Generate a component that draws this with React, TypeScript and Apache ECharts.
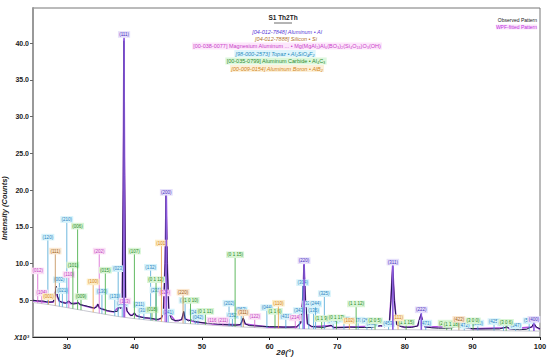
import React, { useEffect, useRef } from "react";
import * as echarts from "echarts";

// Observed pattern [2θ, intensity x10³]
const observed: number[][] = [
  [25.0, 5.0], [25.5, 4.95], [26.0, 4.9], [26.5, 4.9], [27.0, 4.8], [27.5, 4.75], [28.0, 4.8], [28.3, 6.0], [28.45, 6.9], [28.6, 5.6],
  [28.9, 4.9], [29.3, 4.7], [29.8, 4.6], [30.1, 4.8], [30.3, 4.9], [30.6, 4.6], [31.0, 4.5], [31.5, 4.55], [31.7, 4.7], [31.9, 4.45],
  [32.5, 4.3], [33.0, 4.2], [33.6, 4.05], [34.1, 3.95], [34.45, 4.1], [34.6, 4.5], [34.8, 4.0], [35.2, 3.8], [35.6, 3.75], [36.0, 3.6],
  [36.5, 3.5], [37.0, 3.45], [37.5, 3.5], [37.75, 4.3], [37.95, 3.9], [38.2, 4.5], [38.35, 20], [38.45, 40.3], [38.55, 22], [38.7, 5.0],
  [38.9, 3.6], [39.3, 3.0], [39.7, 2.9], [40.0, 3.3], [40.3, 2.9], [41.0, 2.7], [41.5, 2.6], [42.0, 2.6], [42.5, 2.55], [43.0, 2.45],
  [43.5, 2.4], [44.0, 2.6], [44.3, 3.5], [44.55, 10], [44.7, 19.7], [44.85, 10], [45.1, 3.3], [45.5, 2.4], [46.0, 2.25], [46.5, 2.2],
  [47.0, 2.4], [47.3, 3.5], [47.5, 2.5], [48.0, 2.2], [48.5, 2.35], [49.0, 2.1], [50.0, 1.95], [51.0, 1.85], [52.0, 1.8], [53.0, 1.7],
  [54.0, 1.65], [55.0, 1.6], [55.7, 1.7], [56.1, 2.6], [56.4, 1.8], [57.0, 1.55], [58.0, 1.5], [59.0, 1.45], [60.0, 1.4], [61.0, 1.4],
  [62.0, 1.35], [63.0, 1.35], [64.0, 1.4], [64.6, 1.9], [64.9, 5.0], [65.1, 9.8], [65.3, 5.0], [65.6, 1.8], [66.2, 1.45], [67.0, 1.35],
  [68.0, 1.3], [69.1, 1.6], [69.5, 1.3], [70.0, 1.3], [71.0, 1.3], [72.0, 1.35], [73.0, 1.3], [74.0, 1.3], [75.0, 1.3], [76.4, 1.55],
  [77.0, 1.4], [77.7, 1.6], [77.95, 5.0], [78.2, 9.6], [78.45, 5.0], [78.8, 1.7], [79.5, 1.4], [80.0, 1.35], [81.0, 1.3], [81.9, 1.5],
  [82.2, 2.5], [82.4, 3.1], [82.6, 2.3], [83.0, 1.4], [84.0, 1.25], [85.0, 1.2], [86.0, 1.2], [87.0, 1.25], [87.6, 1.5], [88.0, 1.8],
  [88.5, 1.5], [89.0, 1.25], [90.0, 1.15], [91.0, 1.1], [92.0, 1.1], [93.0, 1.1], [94.0, 1.1], [94.8, 1.3], [95.1, 1.4], [95.5, 1.15],
  [96.0, 1.05], [97.0, 1.0], [98.0, 1.05], [98.8, 1.4], [99.1, 1.9], [99.4, 1.4], [100.0, 1.1],
];

// WPF-fitted pattern
const fitted: number[][] = [
  [25.0, 4.95], [27.0, 4.75], [28.0, 4.75], [28.3, 5.9], [28.45, 6.8], [28.6, 5.5], [28.9, 4.85], [30.0, 4.6], [30.3, 4.85], [30.6, 4.55],
  [31.7, 4.65], [32.0, 4.4], [33.0, 4.15], [34.1, 3.9], [34.6, 4.45], [34.8, 3.95], [36.0, 3.55], [37.0, 3.4], [37.75, 4.2], [37.95, 3.85],
  [38.2, 4.5], [38.35, 20.5], [38.45, 40.5], [38.55, 22.5], [38.7, 5.0], [38.9, 3.5], [39.5, 2.9], [40.0, 3.2], [40.3, 2.85], [42.0, 2.55],
  [43.5, 2.35], [44.0, 2.55], [44.3, 3.5], [44.55, 10.5], [44.7, 19.8], [44.85, 10.5], [45.1, 3.3], [46.0, 2.2], [47.0, 2.35], [47.3, 3.4],
  [47.5, 2.45], [49.0, 2.05], [52.0, 1.75], [55.7, 1.65], [56.1, 2.5], [56.4, 1.75], [60.0, 1.35], [64.0, 1.35], [64.6, 1.9], [64.9, 5.2],
  [65.1, 9.9], [65.3, 5.2], [65.6, 1.8], [66.2, 1.4], [69.1, 1.55], [69.5, 1.28], [76.4, 1.5], [77.7, 1.6], [77.95, 5.2], [78.2, 9.7],
  [78.45, 5.2], [78.8, 1.7], [80.0, 1.3], [81.9, 1.5], [82.2, 2.5], [82.4, 3.0], [82.6, 2.3], [83.0, 1.35], [87.6, 1.45], [88.0, 1.75],
  [88.5, 1.45], [90.0, 1.1], [94.8, 1.25], [95.1, 1.35], [95.5, 1.1], [98.8, 1.35], [99.1, 1.85], [99.4, 1.35], [100.0, 1.05],
];

// Background curve
const background: number[][] = [
  [25, 4.7], [27.5, 4.4], [30, 4.0], [32.5, 3.6], [35, 3.2], [37.5, 2.8], [40, 2.5], [42.5, 2.25], [45, 2.0], [47.5, 1.85],
  [50, 1.7], [55, 1.4], [60, 1.2], [65, 1.1], [70, 1.05], [75, 1.0], [80, 1.0], [85, 0.95], [90, 0.9], [95, 0.85], [100, 0.8],
];

// Reference phase sticks: [2θ, label height, hkl]
const alPeaks: [number, number, string][] = [
  [38.47, 41.2, "(111)"], [44.72, 19.7, "(200)"], [65.1, 10.4, "(220)"], [78.23, 10.2, "(311)"], [82.44, 3.7, "(222)"], [99.1, 2.4, "(400)"],
];
const siPeaks: [number, number, string][] = [
  [28.3, 11.7, "(111)"], [47.2, 6.1, "(220)"], [56.1, 3.3, "(311)"], [88.0, 2.4, "(422)"],
];
const mgPeaks: [number, number, string][] = [
  [25.7, 9.0, "(012)"], [26.3, 6.0, "(104)"], [30.3, 8.5, "(110)"], [34.8, 11.7, "(202)"], [38.6, 4.9, "(113)"], [44.5, 6.0, "(024)"],
  [51.6, 2.3, "(116)"], [53.1, 2.3, "(211)"], [57.8, 2.8, "(122)"], [63.8, 2.6, "(214)"],
];
const topazPeaks: [number, number, string][] = [
  [27.2, 13.6, "(120)"], [28.9, 7.8, "(002)"], [29.35, 6.3, "(021)"], [30.0, 16.0, "(210)"], [35.2, 6.2, "(130)"], [37.1, 5.5, "(131)"],
  [37.6, 9.3, "(023)"], [38.2, 4.5, "(221)"], [40.7, 4.4, "(211)"], [41.4, 3.6, "(310)"], [42.4, 9.5, "(132)"], [43.2, 6.4, "(231)"],
  [45.0, 3.4, "(241)"], [47.5, 5.0, "(330)"], [49.0, 3.4, "(241)"], [49.4, 2.7, "(042)"], [54.0, 4.6, "(202)"], [54.5, 2.9, "(152)"],
  [55.8, 3.7, "(063)"], [59.6, 4.0, "(044)"], [62.4, 2.8, "(431)"], [64.4, 3.6, "(343)"], [64.9, 7.4, "(304)"], [65.8, 4.5, "(324)"],
  [66.5, 3.6, "(135)"], [66.8, 4.5, "(244)"], [68.1, 5.9, "(325)"], [69.4, 2.2, "(442)"], [71.0, 2.4, "(520)"], [73.1, 2.3, "(370)"],
  [74.4, 2.2, "(263)"], [75.1, 1.8, "(062)"], [77.6, 1.8, "(453)"], [83.1, 1.9, "(471)"], [88.8, 1.6, "(472)"], [90.8, 1.9, "(363)"],
  [93.2, 2.1, "(425)"], [94.6, 1.9, "(433)"], [96.4, 1.5, "(347)"], [98.4, 2.2, "(528)"],
];
const al4c3Peaks: [number, number, string][] = [
  [30.9, 9.8, "(101)"], [31.6, 15.1, "(006)"], [32.1, 5.5, "(009)"], [35.7, 9.1, "(015)"], [40.0, 11.7, "(107)"], [42.6, 3.7, "(018)"],
  [43.2, 7.8, "(0 1 12)"], [48.3, 5.0, "(1 0 10)"], [50.5, 3.5, "(0 1 11)"], [54.9, 11.2, "(0 1 15)"], [60.8, 3.5, "(1 1 6)"],
  [67.7, 2.5, "(1 1 9)"], [69.9, 2.6, "(0 1 17)"], [72.8, 4.5, "(1 1 12)"], [75.6, 2.2, "(2 0 5)"], [80.2, 2.0, "(1 1 15)"],
  [86.2, 1.9, "(2 1 10)"], [86.9, 1.7, "(1 1 18)"], [90.1, 2.2, "(3 0 0)"], [95.0, 2.0, "(3 0 6)"],
];
const alb2Peaks: [number, number, string][] = [
  [27.3, 5.5, "(001)"], [33.9, 7.5, "(100)"], [44.0, 12.8, "(101)"], [61.3, 4.6, "(110)"], [71.8, 2.2, "(102)"], [79.0, 2.6, "(111)"],
];

const xTicks = [30, 40, 50, 60, 70, 80, 90, 100];
const yTicks = [0, 5, 10, 15, 20, 25, 30, 35, 40];

function bgAt(x: number): number {
  for (let i = 0; i < background.length - 1; i++) {
    const [x0, y0] = background[i];
    const [x1, y1] = background[i + 1];
    if (x >= x0 && x <= x1) return y0 + ((y1 - y0) * (x - x0)) / (x1 - x0);
  }
  return background[background.length - 1][1];
}

function stickSeries(name: string, peaks: [number, number, string][], stroke: string, textColor: string, bg: string, lw: number) {
  return {
    name,
    type: "custom",
    coordinateSystem: "cartesian2d",
    data: peaks.map((p) => [p[0], p[1]]),
    encode: { x: 0, y: 1 },
    z: 4,
    renderItem: (params: any, api: any) => {
      const x = api.value(0);
      const top = api.value(1);
      const p1 = api.coord([x, top]);
      const p2 = api.coord([x, bgAt(x)]);
      const label = peaks[params.dataIndex][2];
      return {
        type: "group",
        children: [
          {
            type: "line",
            shape: { x1: p1[0], y1: p1[1] + 3, x2: p2[0], y2: p2[1] },
            style: { stroke, lineWidth: lw },
          },
          {
            type: "text",
            x: p1[0],
            y: p1[1],
            style: {
              text: label,
              fill: textColor,
              fontSize: 4.5,
              fontFamily: "Liberation Sans",
              align: "center",
              verticalAlign: "middle",
              backgroundColor: bg,
              padding: [0.8, 1.2],
            },
          },
        ],
      };
    },
  };
}

export default function App() {
  const ref = useRef<HTMLDivElement>(null);
  useEffect(() => {
    if (!ref.current) return;
    const chart = echarts.init(ref.current, undefined, { renderer: "svg" });
    const phaseLines = [
      { t: "[04-012-7848] Aluminum • Al", c: "#5a3ad8", bg: "transparent", it: "italic", y: 31.5, x: 287 },
      { t: "[04-012-7888] Silicon • Si", c: "#b0702a", bg: "transparent", it: "italic", y: 38.5, x: 286 },
      { t: "[00-038-0077] Magnesium Aluminum ... • Mg(MgAl₂)Al₆(BO₃)₂(Si₄O₁₈)O₃(OH)", c: "#c83cc8", bg: "#fde6fb", it: "normal", y: 46, x: 287 },
      { t: "[98-000-2573] Topaz • Al₂SiO₄F₂", c: "#2a8fc0", bg: "#dff5fc", it: "italic", y: 53.5, x: 275 },
      { t: "[00-035-0799] Aluminum Carbide • Al₄C₃", c: "#2e8b2e", bg: "#dcf7dc", it: "normal", y: 61, x: 276 },
      { t: "[00-009-0154] Aluminum Boron • AlB₂", c: "#d0861c", bg: "#fdf0d8", it: "italic", y: 68.5, x: 277 },
    ];
    chart.setOption({
      animation: false,
      backgroundColor: "#ffffff",
      grid: { left: 33, right: 10, top: 8, bottom: 25, show: true, borderColor: "#777", borderWidth: 1 },
      xAxis: {
        type: "value",
        min: 25,
        max: 100,
        axisLine: { show: true, onZero: false, lineStyle: { color: "#222", width: 1 } },
        axisTick: { show: true, length: 3, customValues: xTicks, lineStyle: { color: "#222" } },
        axisLabel: {
          customValues: xTicks,
          color: "#222",
          fontSize: 7.5,
          fontWeight: "bold",
          fontFamily: "Liberation Sans",
          margin: 5,
          formatter: (v: number) => String(v),
        },
        splitLine: { show: false },
      },
      yAxis: {
        type: "value",
        min: 0,
        max: 44.8,
        axisLine: { show: true, onZero: false, lineStyle: { color: "#999", width: 2 } },
        axisTick: { show: true, length: 3, customValues: yTicks.slice(1), lineStyle: { color: "#666" } },
        axisLabel: {
          customValues: yTicks,
          color: "#222",
          fontSize: 7,
          fontWeight: "bold",
          fontFamily: "Liberation Sans",
          margin: 4,
          formatter: (v: number) => (v === 0 ? "{x|X10³}" : v.toFixed(1)),
          rich: { x: { fontStyle: "italic", fontWeight: "bold", fontSize: 7, fontFamily: "Liberation Sans", color: "#222" } },
        },
        splitLine: { show: false },
      },
      series: [
        {
          name: "Background",
          type: "line",
          data: background,
          showSymbol: false,
          lineStyle: { color: "#c8c8d0", width: 1 },
          z: 1,
        },
        {
          name: "WPF-fitted Pattern",
          type: "line",
          data: fitted,
          showSymbol: false,
          lineStyle: { color: "#b04fe0", width: 1.6 },
          z: 2,
        },
        {
          name: "Observed Pattern",
          type: "line",
          data: observed,
          showSymbol: false,
          lineStyle: { color: "#1c1c48", width: 1 },
          z: 3,
        },
        stickSeries("Topaz", topazPeaks, "#4aa6d6", "#2a7fc0", "#d6f3fb", 0.8),
        stickSeries("Mg Al", mgPeaks, "#d860d0", "#c03cc0", "#fbe0f6", 0.8),
        stickSeries("Al4C3", al4c3Peaks, "#3aa83a", "#2a8a2a", "#d9f5d5", 0.8),
        stickSeries("AlB2", alb2Peaks, "#eaa040", "#d0801a", "#fdeec8", 0.8),
        stickSeries("Si", siPeaks, "#c08a50", "#a0601a", "#fbe7cf", 0.8),
        stickSeries("Al", alPeaks, "#8a5ae0", "#4a2fc0", "#e6e0fb", 1.6),
      ],
      graphic: [
        {
          type: "text",
          left: 10 - 10,
          x: 4,
          y: 208,
          rotation: Math.PI / 2,
          style: {
            text: "Intensity (Counts)",
            fill: "#222",
            fontSize: 7.5,
            fontWeight: "bold",
            fontStyle: "italic",
            fontFamily: "Liberation Sans",
            align: "center",
            verticalAlign: "middle",
          },
          position: [12, 208],
        },
        {
          type: "text",
          x: 285,
          y: 352,
          style: {
            text: "2θ(°)",
            fill: "#222",
            fontSize: 8,
            fontWeight: "bold",
            fontStyle: "italic",
            fontFamily: "Liberation Sans",
            align: "center",
            verticalAlign: "middle",
          },
        },
        {
          type: "text",
          x: 283,
          y: 17,
          style: {
            text: "S1 Th2Th",
            fill: "#222",
            fontSize: 6.5,
            fontWeight: "bold",
            fontFamily: "Liberation Sans",
            align: "center",
            verticalAlign: "middle",
          },
        },
        {
          type: "line",
          shape: { x1: 274, y1: 23, x2: 292, y2: 23 },
          style: { stroke: "#444", lineWidth: 0.8 },
        },
        {
          type: "text",
          x: 537,
          y: 20,
          style: {
            text: "Observed Pattern",
            fill: "#222",
            fontSize: 5,
            fontFamily: "Liberation Sans",
            align: "right",
            verticalAlign: "middle",
          },
        },
        {
          type: "text",
          x: 537,
          y: 27,
          style: {
            text: "WPF-fitted Pattern",
            fill: "#c030e0",
            fontSize: 5,
            fontFamily: "Liberation Sans",
            align: "right",
            verticalAlign: "middle",
            backgroundColor: "#fbe6fb",
          },
        },
        ...phaseLines.map((p) => ({
          type: "text",
          x: p.x,
          y: p.y,
          style: {
            text: p.t,
            fill: p.c,
            fontSize: 5.5,
            fontStyle: p.it,
            fontFamily: "Liberation Sans",
            align: "center",
            verticalAlign: "middle",
            backgroundColor: p.bg,
            padding: [0.5, 1],
          },
        })),
      ],
    });
    return () => chart.dispose();
  }, []);
  return <div ref={ref} style={{ width: 550, height: 362, position: "absolute", left: 0, top: 0 }} />;
}
